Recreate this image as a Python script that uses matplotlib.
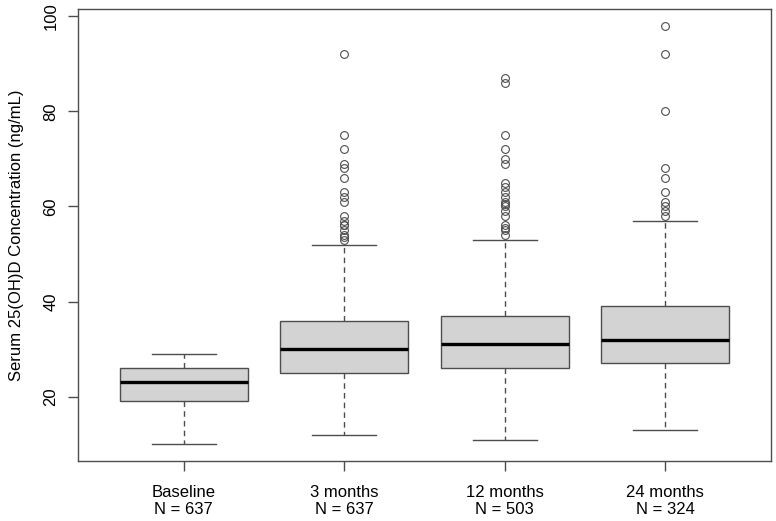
import matplotlib
matplotlib.use("Agg")
import matplotlib.pyplot as plt

plt.rcParams["font.family"] = ["Liberation Sans", "DejaVu Sans"]

# Data
groups = ["Baseline", "3 months", "12 months", "24 months"]
n_obs = [637, 637, 503, 324]
whislo = [10, 12, 11, 13]
q1 = [19, 25, 26, 27]
medians = [23, 30, 31, 32]
q3 = [26, 36, 37, 39]
whishi = [29, 52, 53, 57]
outliers = [
    [],
    [92, 75, 72, 69, 68, 66, 63, 62, 61, 58, 57, 56, 56, 55, 54, 53.5, 53],
    [87, 86, 75, 72, 70, 69, 65, 64, 63, 62, 61, 60.5, 60, 59, 58, 56, 55.5, 55, 54],
    [98, 92, 80, 68, 66, 63, 61, 60, 59, 58],
]

stats = [
    dict(label=f"{g}\nN = {n}", whislo=lo, q1=a, med=m, q3=b, whishi=hi, fliers=fl)
    for g, n, lo, a, m, b, hi, fl in zip(groups, n_obs, whislo, q1, medians, q3, whishi, outliers)
]

line_col = "#4d4d4d"
fig = plt.figure(figsize=(7.76, 5.21), dpi=100)
ax = fig.add_axes([78 / 776, 1 - 461 / 521, (771 - 78) / 776, (461 - 9) / 521])

ax.bxp(stats, positions=range(1, len(groups) + 1), widths=0.8, patch_artist=True,
       boxprops=dict(facecolor="#d3d3d3", edgecolor=line_col, linewidth=1.0),
       medianprops=dict(color="black", linewidth=2.4),
       whiskerprops=dict(color=line_col, linewidth=1.0, linestyle=(0, (4, 3))),
       capprops=dict(color=line_col, linewidth=1.0),
       capwidths=0.4,
       flierprops=dict(marker="o", markerfacecolor="none", markeredgecolor=line_col,
                       markersize=5.6, markeredgewidth=0.8))

ax.set_xlim(0.34, 4.66)
ax.set_ylim(6.48, 101.52)
ax.set_yticks([20, 40, 60, 80, 100])
ax.set_ylabel("Serum 25(OH)D Concentration (ng/mL)", fontsize=12, labelpad=14)

for lbl in ax.get_yticklabels():
    lbl.set_rotation(90)
    lbl.set_va("center")
ax.tick_params(axis="y", length=7, width=1, color=line_col, labelsize=12, pad=7)
ax.tick_params(axis="x", length=7, width=1, color=line_col, labelsize=12, pad=10)
for s in ax.spines.values():
    s.set_color(line_col)
    s.set_linewidth(1.0)

fig.savefig("out.png", dpi=100)
